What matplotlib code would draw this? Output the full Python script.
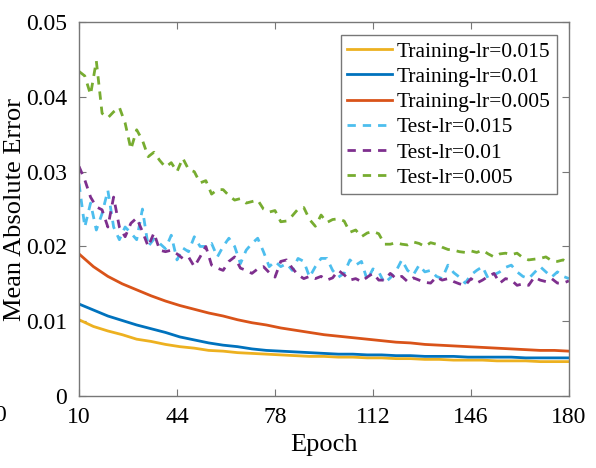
import numpy as np
import matplotlib
matplotlib.use("Agg")
import matplotlib.pyplot as plt

plt.rcParams["font.family"] = ["Liberation Serif", "DejaVu Serif"]

# Training curves, every 5 epochs
train_epochs = list(range(10, 181, 5))
train_lr0015 = [0.0102, 0.0093, 0.0087, 0.0082, 0.0076, 0.0073, 0.0069, 0.0066, 0.0064, 0.0061,
                0.0060, 0.0058, 0.0057, 0.0056, 0.0055, 0.0054, 0.0053, 0.0053, 0.0052, 0.0052,
                0.0051, 0.0051, 0.0050, 0.0050, 0.0049, 0.0049, 0.0048, 0.0048, 0.0048, 0.0047,
                0.0047, 0.0047, 0.0046, 0.0046, 0.0046]
train_lr001 = [0.0123, 0.0115, 0.0107, 0.0101, 0.0095, 0.0090, 0.0085, 0.0079, 0.0075, 0.0071,
               0.0068, 0.0066, 0.0063, 0.0061, 0.0060, 0.0059, 0.0058, 0.0057, 0.0056, 0.0056,
               0.0055, 0.0055, 0.0054, 0.0054, 0.0053, 0.0053, 0.0053, 0.0052, 0.0052, 0.0052,
               0.0052, 0.0051, 0.0051, 0.0051, 0.0051]
train_lr0005 = [0.0190, 0.0173, 0.0160, 0.0150, 0.0142, 0.0134, 0.0127, 0.0121, 0.0116, 0.0111,
                0.0107, 0.0102, 0.0098, 0.0095, 0.0091, 0.0088, 0.0085, 0.0082, 0.0080, 0.0078,
                0.0076, 0.0074, 0.0072, 0.0071, 0.0069, 0.0068, 0.0067, 0.0066, 0.0065, 0.0064,
                0.0063, 0.0062, 0.0061, 0.0061, 0.0060]

# Test curves, every 2 epochs
test_epochs = list(range(10, 181, 2))
test_lr0015 = [0.0284, 0.0226, 0.0258, 0.0222, 0.0244, 0.0275, 0.0226, 0.0209, 0.0226, 0.0218,
               0.0209, 0.0250, 0.0200, 0.0210, 0.0204, 0.0197, 0.0215, 0.0182, 0.0198, 0.0193,
               0.0213, 0.0200, 0.0200, 0.0204, 0.0186, 0.0200, 0.0211, 0.0200, 0.0177, 0.0195,
               0.0204, 0.0211, 0.0193, 0.0173, 0.0180, 0.0173, 0.0177, 0.0168, 0.0184, 0.0180,
               0.0159, 0.0173, 0.0184, 0.0184, 0.0168, 0.0159, 0.0164, 0.0182, 0.0175, 0.0180,
               0.0155, 0.0170, 0.0166, 0.0151, 0.0158, 0.0167, 0.0182, 0.0168, 0.0162, 0.0175,
               0.0166, 0.0168, 0.0160, 0.0157, 0.0175, 0.0165, 0.0159, 0.0151, 0.0162, 0.0168,
               0.0173, 0.0157, 0.0162, 0.0166, 0.0172, 0.0175, 0.0166, 0.0160, 0.0157, 0.0165,
               0.0173, 0.0166, 0.0159, 0.0166, 0.0160, 0.0157]
test_lr001 = [0.0307, 0.0289, 0.0266, 0.0253, 0.0249, 0.0226, 0.0266, 0.0226, 0.0213, 0.0231,
              0.0238, 0.0220, 0.0200, 0.0218, 0.0195, 0.0193, 0.0195, 0.0190, 0.0184, 0.0186,
              0.0173, 0.0186, 0.0200, 0.0175, 0.0171, 0.0168, 0.0180, 0.0186, 0.0171, 0.0168,
              0.0164, 0.0170, 0.0173, 0.0165, 0.0159, 0.0180, 0.0182, 0.0171, 0.0162, 0.0157,
              0.0160, 0.0157, 0.0160, 0.0155, 0.0158, 0.0168, 0.0162, 0.0155, 0.0157, 0.0153,
              0.0159, 0.0164, 0.0155, 0.0155, 0.0164, 0.0157, 0.0160, 0.0153, 0.0158, 0.0155,
              0.0152, 0.0151, 0.0159, 0.0155, 0.0157, 0.0153, 0.0150, 0.0148, 0.0157, 0.0151,
              0.0155, 0.0160, 0.0164, 0.0151, 0.0157, 0.0155, 0.0148, 0.0150, 0.0148, 0.0159,
              0.0155, 0.0153, 0.0157, 0.0151, 0.0151, 0.0154]
test_lr0005 = [0.0434, 0.0428, 0.0403, 0.0448, 0.0378, 0.0372, 0.0380, 0.0386, 0.0365, 0.0330,
               0.0356, 0.0342, 0.0320, 0.0326, 0.0315, 0.0306, 0.0312, 0.0300, 0.0318, 0.0303,
               0.0300, 0.0285, 0.0288, 0.0270, 0.0276, 0.0276, 0.0268, 0.0262, 0.0264, 0.0258,
               0.0260, 0.0262, 0.0250, 0.0246, 0.0248, 0.0233, 0.0234, 0.0241, 0.0250, 0.0252,
               0.0236, 0.0227, 0.0242, 0.0232, 0.0236, 0.0237, 0.0234, 0.0219, 0.0222, 0.0213,
               0.0218, 0.0220, 0.0217, 0.0203, 0.0203, 0.0205, 0.0203, 0.0202, 0.0206, 0.0204,
               0.0200, 0.0205, 0.0203, 0.0199, 0.0196, 0.0195, 0.0193, 0.0192, 0.0194, 0.0192,
               0.0195, 0.0190, 0.0186, 0.0190, 0.0191, 0.0189, 0.0191, 0.0185, 0.0182, 0.0183,
               0.0184, 0.0186, 0.0181, 0.0180, 0.0182, 0.0177]

x_ticks = [10, 44, 78, 112, 146, 180]
y_ticks = [0, 0.01, 0.02, 0.03, 0.04, 0.05]
y_ticklabels = ["0", "0.01", "0.02", "0.03", "0.04", "0.05"]

fig = plt.figure(figsize=(5.96, 4.68), dpi=100)
ax = fig.add_axes([0.1326, 0.1538, 0.822, 0.799])

lw = 2.0
ax.plot(train_epochs, train_lr0015, color="#EDB120", lw=lw, label="Training-lr=0.015")
ax.plot(train_epochs, train_lr001, color="#0072BD", lw=lw, label="Training-lr=0.01")
ax.plot(train_epochs, train_lr0005, color="#D95319", lw=lw, label="Training-lr=0.005")
ax.plot(test_epochs, test_lr0015, color="#4DBEEE", lw=lw, ls=(0, (3, 2.5)), label="Test-lr=0.015")
ax.plot(test_epochs, test_lr001, color="#7E2F8E", lw=lw, ls=(0, (3, 2.5)), label="Test-lr=0.01")
ax.plot(test_epochs, test_lr0005, color="#77AC30", lw=lw, ls=(0, (3, 2.5)), label="Test-lr=0.005")

ax.set_xlim(10, 180)
ax.set_ylim(0, 0.05)
ax.set_xticks(x_ticks)
ax.set_yticks(y_ticks)
ax.set_yticklabels(y_ticklabels)
ax.tick_params(direction="in", top=True, right=True, labelsize=17, length=5, color="#777777")
ax.tick_params(axis="x", pad=8)
ax.tick_params(axis="y", pad=8.5)
for s in ax.spines.values():
    s.set_color("#777777")
    s.set_linewidth(1.0)

ax.set_xlabel("Epoch", fontsize=19, labelpad=4)
ax.set_ylabel("Mean Absolute Error", fontsize=19, labelpad=0)

leg = ax.legend(loc="upper right", bbox_to_anchor=(0.9755, 0.965), borderaxespad=0,
                fontsize=15.5, fancybox=False, framealpha=1, edgecolor="#777777",
                handlelength=2.1, handletextpad=0.2, labelspacing=0.24, borderpad=0.3)
leg.get_frame().set_linewidth(1.0)

# clipped label of the neighbouring panel at the left edge
fig.text(0.0, 0.113, "0", fontsize=17, ha="center", va="center")

fig.savefig("out.png", dpi=100)
